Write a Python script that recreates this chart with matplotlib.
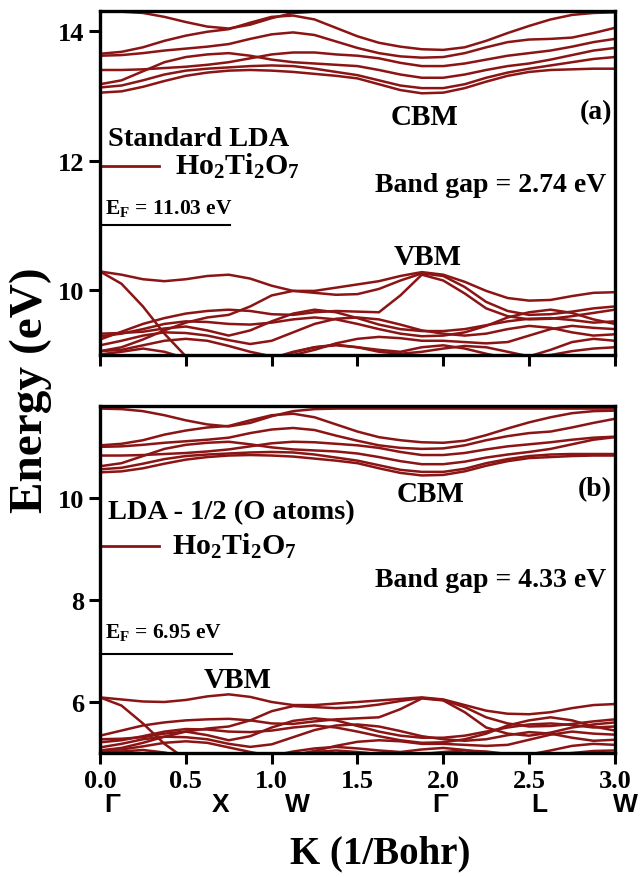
import numpy as np
import matplotlib
matplotlib.use("Agg")
import matplotlib.pyplot as plt

plt.rcParams['font.family'] = 'Liberation Serif'
plt.rcParams['font.weight'] = 'bold'
plt.rcParams['mathtext.fontset'] = 'custom'
plt.rcParams['mathtext.rm'] = 'Liberation Serif:bold'
plt.rcParams['mathtext.bf'] = 'Liberation Serif:bold'
plt.rcParams['mathtext.it'] = 'Liberation Serif:bold'

# k path samples (1/Bohr)
k = [0.0, 0.125, 0.25, 0.375, 0.5, 0.625, 0.75, 0.875, 1.0, 1.125, 1.25, 1.375, 1.5,
     1.625, 1.75, 1.875, 2.0, 2.125, 2.25, 2.375, 2.5, 2.625, 2.75, 2.875, 3.0]

# (a) standard LDA, conduction bands
cb_a = [
    [14.30, 14.30, 14.28, 14.22, 14.14, 14.07, 14.04, 14.10, 14.20, 14.28, 14.30, 14.30, 14.30, 14.30, 14.30, 14.30, 14.30, 14.30, 14.30, 14.30, 14.30, 14.30, 14.30, 14.30, 14.30],
    [13.65, 13.68, 13.75, 13.85, 13.93, 13.99, 14.03, 14.13, 14.22, 14.24, 14.18, 14.05, 13.92, 13.82, 13.76, 13.72, 13.71, 13.75, 13.85, 13.97, 14.08, 14.18, 14.25, 14.28, 14.29],
    [13.62, 13.63, 13.66, 13.70, 13.73, 13.76, 13.80, 13.88, 13.95, 13.98, 13.94, 13.84, 13.74, 13.66, 13.61, 13.59, 13.60, 13.66, 13.75, 13.83, 13.87, 13.88, 13.90, 13.97, 14.05],
    [13.40, 13.40, 13.41, 13.43, 13.45, 13.48, 13.52, 13.58, 13.64, 13.67, 13.67, 13.64, 13.62, 13.58, 13.51, 13.46, 13.46, 13.50, 13.56, 13.62, 13.66, 13.70, 13.76, 13.83, 13.88],
    [13.18, 13.24, 13.38, 13.52, 13.60, 13.64, 13.66, 13.62, 13.56, 13.52, 13.50, 13.48, 13.46, 13.40, 13.33, 13.28, 13.28, 13.33, 13.40, 13.46, 13.50, 13.56, 13.63, 13.70, 13.74],
    [13.13, 13.16, 13.24, 13.33, 13.39, 13.42, 13.44, 13.46, 13.47, 13.46, 13.42, 13.37, 13.32, 13.24, 13.16, 13.12, 13.12, 13.18, 13.28, 13.36, 13.42, 13.47, 13.52, 13.57, 13.60],
    [13.05, 13.07, 13.14, 13.23, 13.31, 13.36, 13.39, 13.40, 13.39, 13.37, 13.34, 13.31, 13.27, 13.18, 13.09, 13.04, 13.05, 13.12, 13.22, 13.31, 13.37, 13.40, 13.41, 13.42, 13.42],
]

# (a) standard LDA, valence bands
vb_a = [
    [10.29, 10.24, 10.17, 10.14, 10.17, 10.22, 10.24, 10.18, 10.07, 9.99, 9.99, 10.04, 10.09, 10.14, 10.22, 10.28, 10.24, 10.13, 9.99, 9.88, 9.84, 9.85, 9.91, 9.96, 9.97],
    [10.29, 10.10, 9.75, 9.33, 8.98, 8.80, 8.75, 8.80, 8.92, 9.04, 9.12, 9.16, 9.12, 9.05, 9.02, 9.05, 9.10, 9.14, 9.12, 9.05, 8.98, 9.00, 9.06, 9.10, 9.12],
    [9.24, 9.36, 9.48, 9.57, 9.64, 9.68, 9.70, 9.68, 9.63, 9.62, 9.66, 9.68, 9.67, 9.66, 9.92, 10.24, 10.15, 9.95, 9.72, 9.60, 9.55, 9.56, 9.60, 9.65, 9.70],
    [9.33, 9.34, 9.36, 9.41, 9.44, 9.38, 9.30, 9.38, 9.52, 9.64, 9.70, 9.66, 9.57, 9.47, 9.40, 9.37, 9.37, 9.40, 9.46, 9.52, 9.56, 9.57, 9.54, 9.50, 9.52],
    [9.29, 9.33, 9.40, 9.48, 9.52, 9.51, 9.48, 9.47, 9.50, 9.55, 9.58, 9.55, 9.48, 9.40, 9.33, 9.29, 9.30, 9.35, 9.45, 9.58, 9.66, 9.70, 9.65, 9.55, 9.48],
    [9.15, 9.22, 9.30, 9.35, 9.34, 9.30, 9.23, 9.17, 9.22, 9.35, 9.48, 9.56, 9.58, 9.55, 9.47, 9.38, 9.33, 9.30, 9.33, 9.40, 9.45, 9.42, 9.35, 9.30, 9.32],
    [9.06, 9.08, 9.15, 9.22, 9.25, 9.22, 9.14, 9.05, 8.98, 9.00, 9.08, 9.18, 9.25, 9.28, 9.26, 9.22, 9.22, 9.20, 9.18, 9.20, 9.30, 9.40, 9.45, 9.42, 9.40],
    [9.01, 9.05, 9.10, 9.05, 8.95, 8.85, 8.80, 8.85, 8.95, 9.05, 9.12, 9.15, 9.12, 9.08, 9.05, 9.12, 9.15, 9.10, 9.02, 8.95, 8.98, 9.08, 9.20, 9.25, 9.22],
    [9.06, 9.12, 9.24, 9.38, 9.50, 9.58, 9.62, 9.75, 9.92, 9.99, 9.96, 9.93, 9.94, 10.02, 10.15, 10.26, 10.22, 10.05, 9.82, 9.68, 9.62, 9.63, 9.67, 9.72, 9.75],
]

# (b) LDA-1/2 (O atoms), conduction bands
cb_b = [
    [11.75, 11.74, 11.70, 11.62, 11.52, 11.44, 11.40, 11.47, 11.60, 11.70, 11.74, 11.75, 11.75, 11.75, 11.75, 11.75, 11.75, 11.75, 11.75, 11.75, 11.75, 11.75, 11.75, 11.75, 11.75],
    [11.03, 11.06, 11.13, 11.24, 11.32, 11.38, 11.41, 11.52, 11.62, 11.65, 11.58, 11.44, 11.30, 11.19, 11.13, 11.09, 11.08, 11.12, 11.23, 11.36, 11.48, 11.58, 11.66, 11.70, 11.71],
    [11.00, 11.01, 11.04, 11.08, 11.11, 11.14, 11.18, 11.27, 11.34, 11.37, 11.33, 11.22, 11.12, 11.03, 10.98, 10.96, 10.97, 11.03, 11.13, 11.21, 11.27, 11.30, 11.38, 11.47, 11.55],
    [10.83, 10.83, 10.84, 10.86, 10.88, 10.91, 10.95, 11.01, 11.07, 11.10, 11.09, 11.06, 11.03, 10.98, 10.90, 10.84, 10.84, 10.88, 10.95, 11.01, 11.05, 11.09, 11.14, 11.18, 11.20],
    [10.62, 10.68, 10.82, 10.96, 11.04, 11.08, 11.10, 11.05, 10.99, 10.95, 10.93, 10.91, 10.87, 10.80, 10.72, 10.66, 10.66, 10.71, 10.79, 10.85, 10.90, 10.96, 11.05, 11.14, 11.19],
    [10.56, 10.59, 10.67, 10.76, 10.82, 10.85, 10.87, 10.89, 10.90, 10.89, 10.85, 10.79, 10.73, 10.64, 10.55, 10.51, 10.51, 10.57, 10.68, 10.76, 10.82, 10.85, 10.86, 10.86, 10.86],
    [10.50, 10.52, 10.58, 10.67, 10.75, 10.80, 10.83, 10.84, 10.83, 10.81, 10.77, 10.73, 10.68, 10.58, 10.49, 10.44, 10.45, 10.52, 10.63, 10.72, 10.78, 10.80, 10.82, 10.83, 10.83],
]

# (b) LDA-1/2 (O atoms), valence bands
vb_b = [
    [6.09, 6.05, 6.01, 6.00, 6.04, 6.11, 6.15, 6.10, 6.00, 5.94, 5.94, 5.97, 6.00, 6.03, 6.06, 6.09, 6.05, 5.94, 5.83, 5.77, 5.76, 5.80, 5.88, 5.94, 5.96],
    [6.09, 5.93, 5.58, 5.18, 4.88, 4.75, 4.70, 4.75, 4.85, 4.95, 5.02, 5.05, 5.02, 4.98, 4.96, 4.98, 5.02, 5.05, 5.03, 4.98, 4.94, 4.96, 5.00, 5.04, 5.05],
    [5.34, 5.44, 5.54, 5.60, 5.64, 5.66, 5.67, 5.64, 5.58, 5.57, 5.62, 5.66, 5.68, 5.70, 5.86, 6.07, 6.03, 5.80, 5.50, 5.38, 5.34, 5.40, 5.50, 5.56, 5.60],
    [5.27, 5.28, 5.31, 5.38, 5.42, 5.35, 5.25, 5.33, 5.50, 5.63, 5.68, 5.64, 5.53, 5.42, 5.34, 5.30, 5.30, 5.34, 5.42, 5.50, 5.56, 5.58, 5.55, 5.50, 5.52],
    [5.21, 5.25, 5.33, 5.42, 5.47, 5.46, 5.42, 5.41, 5.44, 5.50, 5.54, 5.50, 5.42, 5.33, 5.25, 5.20, 5.21, 5.27, 5.38, 5.54, 5.64, 5.70, 5.64, 5.52, 5.44],
    [5.11, 5.18, 5.27, 5.32, 5.31, 5.27, 5.18, 5.12, 5.17, 5.31, 5.45, 5.54, 5.56, 5.52, 5.43, 5.33, 5.27, 5.24, 5.27, 5.35, 5.41, 5.38, 5.30, 5.24, 5.26],
    [5.05, 5.07, 5.13, 5.20, 5.23, 5.20, 5.11, 5.02, 4.94, 4.96, 5.04, 5.14, 5.22, 5.25, 5.23, 5.18, 5.18, 5.16, 5.14, 5.16, 5.26, 5.36, 5.42, 5.38, 5.36],
    [5.02, 5.03, 5.06, 5.01, 4.92, 4.84, 4.80, 4.85, 4.94, 5.03, 5.09, 5.12, 5.09, 5.05, 5.02, 5.07, 5.10, 5.06, 5.00, 4.94, 4.97, 5.05, 5.14, 5.18, 5.16],
    [5.05, 5.10, 5.20, 5.32, 5.42, 5.48, 5.52, 5.64, 5.82, 5.92, 5.90, 5.88, 5.90, 5.95, 6.02, 6.08, 6.04, 5.90, 5.70, 5.58, 5.52, 5.53, 5.57, 5.62, 5.66],
]

fermi = [11.03, 6.95]
gaps = [2.74, 4.33]
methods = ['Standard LDA', 'LDA - 1/2 (O atoms)']
kpoint_labels = ['Γ', 'X', 'W', 'Γ', 'L', 'W']
kpoint_pos = [0.07, 0.70, 1.15, 1.98, 2.56, 3.06]

band_color = '#8b1414'

fig = plt.figure(figsize=(6.42, 8.78), dpi=100)
ax_a = fig.add_axes([0.1558, 0.5945, 0.802, 0.3918])
ax_b = fig.add_axes([0.1558, 0.1412, 0.802, 0.3952])

def draw_panel(ax, cbs, vbs, ylim, yticks):
    for b in cbs + vbs:
        ax.plot(k, b, color=band_color, lw=1.8)
    ax.set_xlim(0, 3.0)
    ax.set_ylim(*ylim)
    ax.set_yticks(yticks)
    ax.set_xticks(np.arange(0, 3.01, 0.5))
    ax.tick_params(direction='out', length=8, width=2.2, labelsize=19,
                   top=False, right=False)
    for s in ax.spines.values():
        s.set_linewidth(2.4)

draw_panel(ax_a, cb_a, vb_a, (9.0, 14.31), [10, 12, 14])
draw_panel(ax_b, cb_b, vb_b, (5.0, 11.8), [6, 8, 10])
ax_a.set_xticklabels([])
ax_b.set_xticklabels(['%.1f' % t for t in np.arange(0, 3.01, 0.5)])

# (a) annotations
ax_a.text(0.016, 0.628, methods[0], transform=ax_a.transAxes, fontsize=20.5, va='center')
ax_a.plot([0.0, 0.115], [0.549, 0.549], transform=ax_a.transAxes, color=band_color, lw=2)
ax_a.text(0.145, 0.55, r'$\mathrm{Ho_2Ti_2O_7}$', transform=ax_a.transAxes, fontsize=21.5, va='center')
ax_a.text(0.01, 0.43, r'$\mathrm{E_F}$ = %.2f eV' % fermi[0], transform=ax_a.transAxes, fontsize=15.5, va='center')
ax_a.plot([0, 0.76], [fermi[0] - 0.03, fermi[0] - 0.03], color='black', lw=1.5)
ax_a.text(0.631, 0.692, 'CBM', transform=ax_a.transAxes, fontsize=21, ha='center', va='center')
ax_a.text(0.994, 0.709, '(a)', transform=ax_a.transAxes, fontsize=20, ha='right', va='center')
ax_a.text(0.534, 0.497, 'Band gap = %.2f eV' % gaps[0], transform=ax_a.transAxes, fontsize=20, va='center')
ax_a.text(0.637, 0.285, 'VBM', transform=ax_a.transAxes, fontsize=21, ha='center', va='center')

# (b) annotations
ax_b.text(0.016, 0.697, methods[1], transform=ax_b.transAxes, fontsize=20.5, va='center')
ax_b.plot([0.0, 0.115], [0.597, 0.597], transform=ax_b.transAxes, color=band_color, lw=2)
ax_b.text(0.14, 0.598, r'$\mathrm{Ho_2Ti_2O_7}$', transform=ax_b.transAxes, fontsize=21.5, va='center')
ax_b.text(0.01, 0.35, r'$\mathrm{E_F}$ = %.2f eV' % fermi[1], transform=ax_b.transAxes, fontsize=15.5, va='center')
ax_b.plot([0, 0.77], [fermi[1], fermi[1]], color='black', lw=1.5)
ax_b.text(0.641, 0.749, 'CBM', transform=ax_b.transAxes, fontsize=21, ha='center', va='center')
ax_b.text(0.994, 0.761, '(b)', transform=ax_b.transAxes, fontsize=20, ha='right', va='center')
ax_b.text(0.534, 0.501, 'Band gap = %.2f eV' % gaps[1], transform=ax_b.transAxes, fontsize=20, va='center')
ax_b.text(0.268, 0.213, 'VBM', transform=ax_b.transAxes, fontsize=21, ha='center', va='center')

# high-symmetry point labels under the k axis
for lab, pos in zip(kpoint_labels, kpoint_pos):
    ax_b.text(pos, -0.148, lab, transform=ax_b.get_xaxis_transform(), fontsize=19,
              family='Liberation Sans', weight='bold', ha='center', va='center')

fig.text(0.592, 0.027, 'K (1/Bohr)', fontsize=28, ha='center', va='center')
fig.text(0.048, 0.556, 'Energy (eV)', rotation=90, fontsize=34, ha='center', va='center')

fig.savefig('out.png', dpi=100)
